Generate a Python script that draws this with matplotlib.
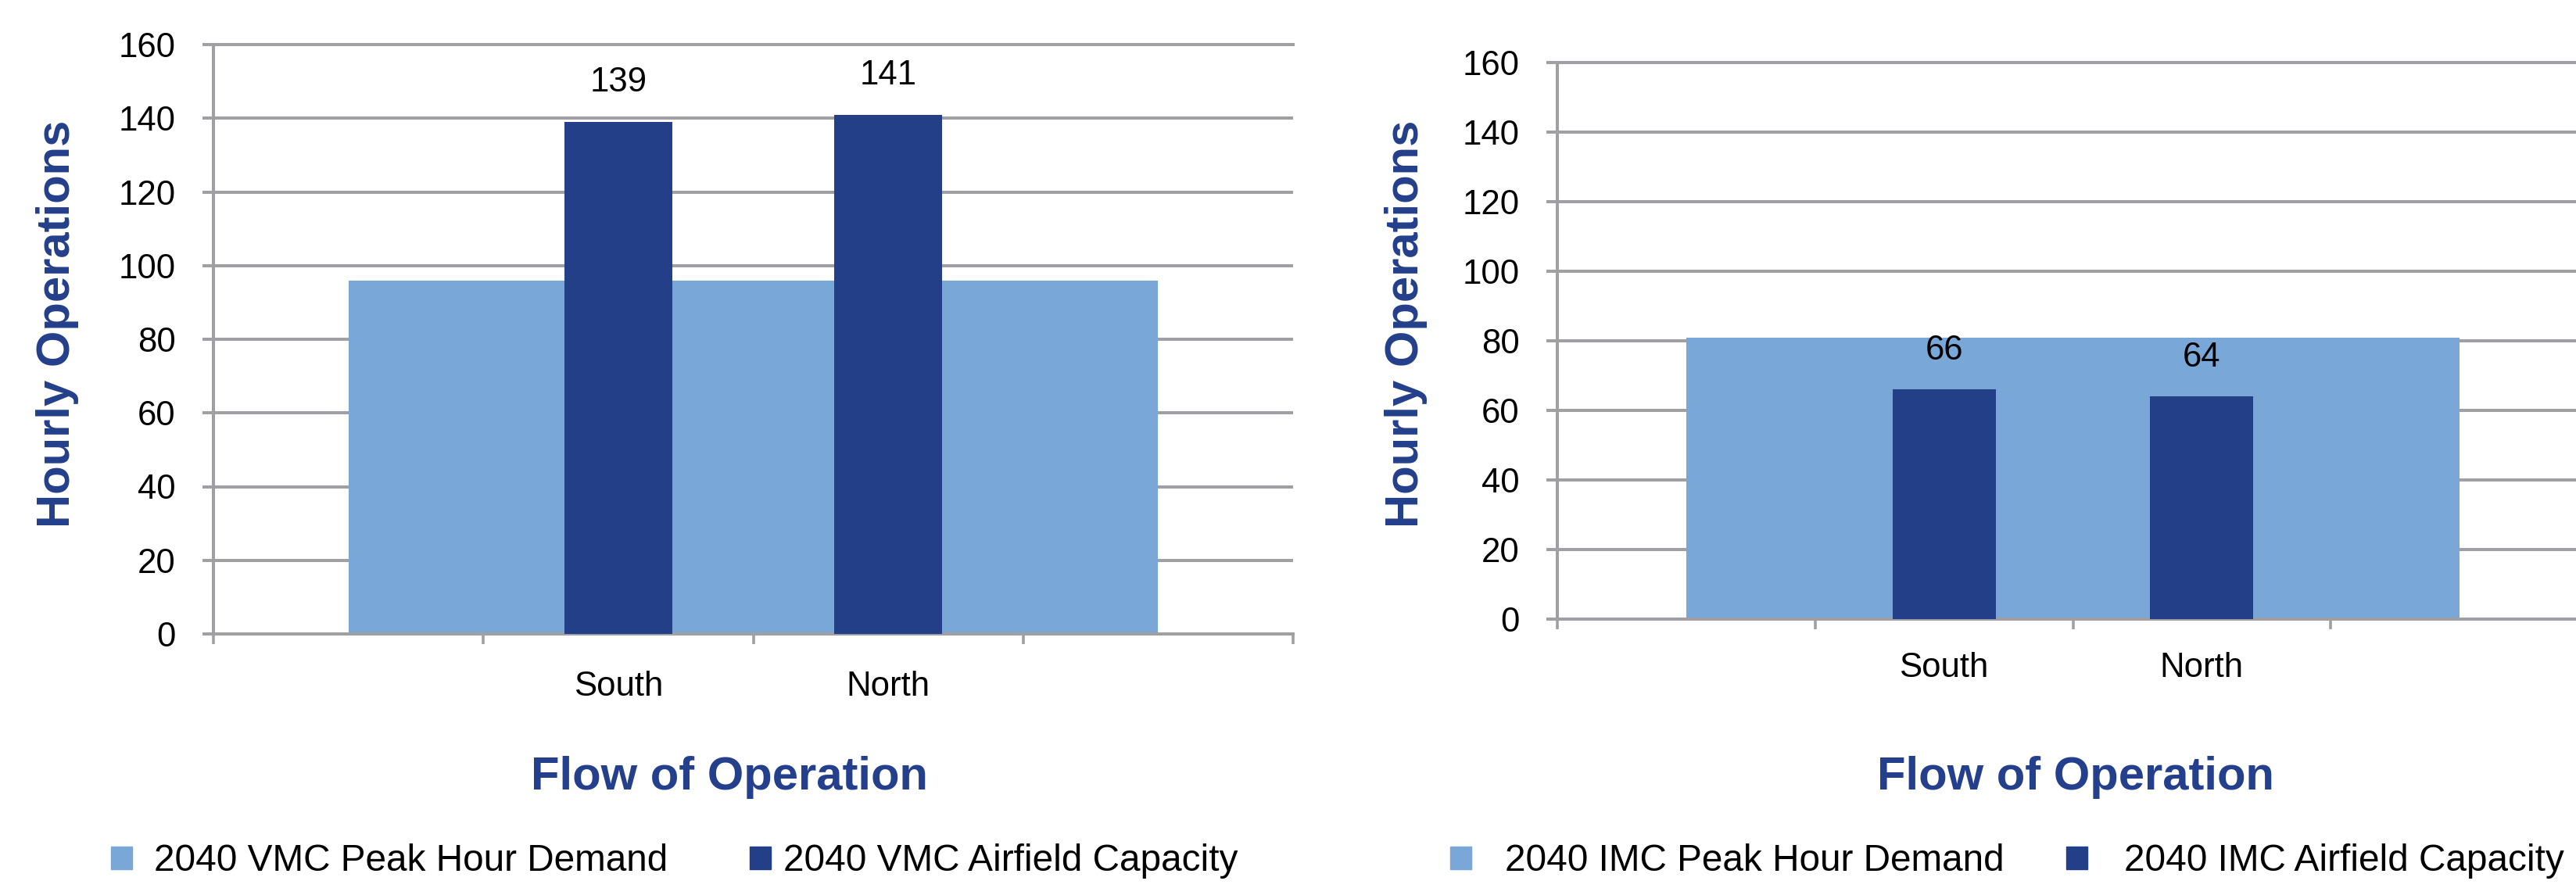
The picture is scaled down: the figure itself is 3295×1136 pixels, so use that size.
import matplotlib
matplotlib.use("Agg")
import matplotlib.pyplot as plt
from matplotlib.patches import Patch

# ---- data ----
categories = ["", "South", "North", ""]
capacity_categories = ["South", "North"]
vmc_demand = [96, 96, 96, 96]
vmc_capacity = [139, 141]
imc_demand = [81, 81, 81, 81]
imc_capacity = [66, 64]
y_ticks = [0, 20, 40, 60, 80, 100, 120, 140, 160]

LIGHT = "#79A7D8"
DARK = "#233F88"
TITLE = "#243F8B"
GRID = "#A0A0A4"
LEG_FS = 34.4

plt.rcParams["font.family"] = ["Liberation Sans", "DejaVu Sans"]

W, H = 3295, 1136
fig = plt.figure(figsize=(W / 100, H / 100), dpi=100)


def px_rect(x0, y_top, x1, y_bot):
    return [x0 / W, 1 - y_bot / H, (x1 - x0) / W, (y_bot - y_top) / H]


def legend_entry(color, label, marker_px, gap_px):
    em = LEG_FS * 100 / 72
    fig.legend([Patch(color=color)], [label], loc="center left",
               bbox_to_anchor=(marker_px / W, 1 - 1102 / H), frameon=False,
               fontsize=LEG_FS, handlelength=27 / em, handleheight=27 / em,
               handletextpad=gap_px / em, borderpad=0, borderaxespad=0)


def draw_panel(rect, demand, capacity, ylab_xy, xlab_xy, xpad):
    ax = fig.add_axes(rect)
    x = list(range(len(categories)))
    ax.fill_between(x, demand, color=LIGHT, lw=0, zorder=2)
    cap_x = [categories.index(c) for c in capacity_categories]
    bars = ax.bar(cap_x, capacity, width=0.4, color=DARK, zorder=3)
    for b, v in zip(bars, capacity):
        ax.annotate(str(v), (b.get_x() + b.get_width() / 2, v), xytext=(0, 36),
                    textcoords="offset points", ha="center", va="center",
                    fontsize=31.5, color="black")

    ax.set_xlim(-0.5, len(categories) - 0.5)
    ax.set_ylim(0, 160)
    ax.set_yticks(y_ticks)
    ax.set_xticks([i - 0.5 for i in range(len(categories) + 1)])
    ax.set_xticklabels([])
    ax.set_xticks(x, minor=True)
    ax.set_xticklabels(categories, minor=True)

    ax.set_axisbelow(True)
    ax.grid(axis="y", color=GRID, lw=2.9)
    ax.tick_params(axis="y", length=10, width=2.9, color=GRID, pad=25, labelsize=31.5)
    ax.tick_params(axis="x", which="major", length=9.5, width=2.6, color=GRID)
    ax.tick_params(axis="x", which="minor", length=0, pad=xpad, labelsize=31.5)
    ax.spines["right"].set_visible(False)
    for s in ["top", "bottom", "left"]:
        ax.spines[s].set_color(GRID)
        ax.spines[s].set_linewidth(2.9)

    ax.set_ylabel("Hourly Operations", fontsize=43, fontweight="bold", color=TITLE, va="center")
    ax.yaxis.set_label_coords(*ylab_xy)
    ax.set_xlabel("Flow of Operation", fontsize=43, fontweight="bold", color=TITLE, va="center")
    ax.xaxis.set_label_coords(*xlab_xy)
    return ax


draw_panel(px_rect(273, 57, 1654, 811), vmc_demand, vmc_capacity,
           (-0.1448, 0.5265), (0.478, -0.243), 34)
legend_entry(LIGHT, "2040 VMC Peak Hour Demand", 142, 28)
legend_entry(DARK, "2040 VMC Airfield Capacity", 959, 16)

draw_panel(px_rect(1992, 80, 3311, 792), imc_demand, imc_capacity,
           (-0.147, 0.531), (0.5027, -0.284), 30)
legend_entry(LIGHT, "2040 IMC Peak Hour Demand", 1855, 43)
legend_entry(DARK, "2040 IMC Airfield Capacity", 2643, 47)

fig.savefig("out.png", dpi=100)
